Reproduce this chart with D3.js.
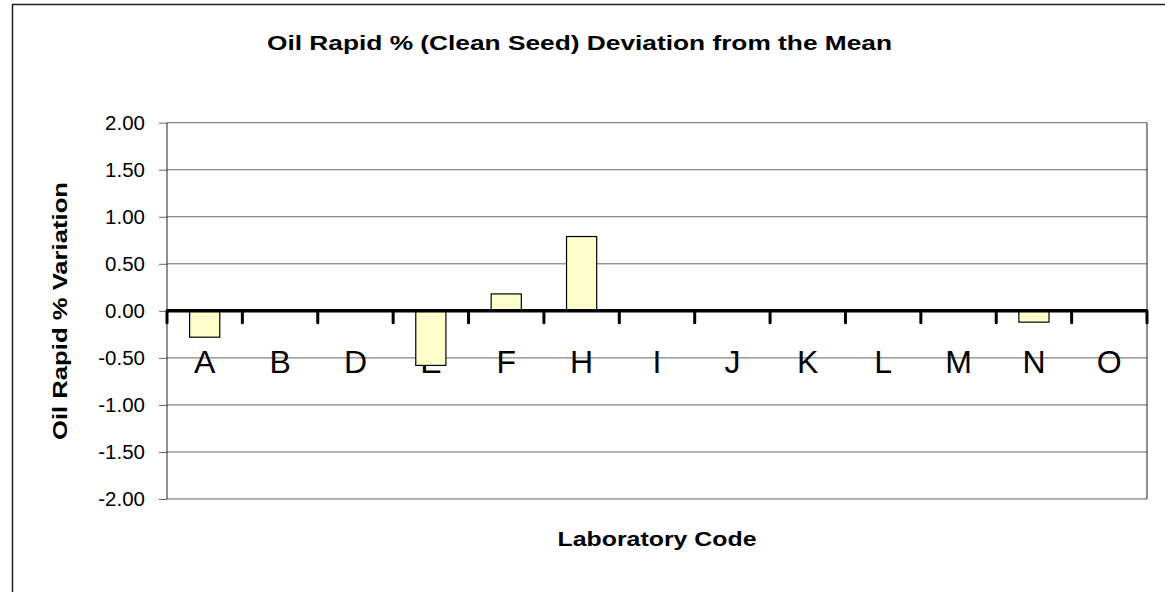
<!DOCTYPE html>
<html>
<head>
    <meta charset="utf-8">
    <script type="text/javascript" src="https://d3js.org/d3.v7.min.js"></script>
    <style>
        body { margin: 0; background: #fff; }
        text { font-family: "Liberation Sans", Arial, sans-serif; }
    </style>
</head>
<body>
    <div id="chart"></div>
    <script type="text/javascript">
        // lab codes and deviation from the mean
        var labs = ["A", "B", "D", "E", "F", "H", "I", "J", "K", "L", "M", "N", "O"];
        var deviation = [-0.28, 0, 0, -0.58, 0.18, 0.79, 0, 0, 0, 0, 0, -0.12, 0];
        var yTicks = [2, 1.5, 1, 0.5, 0, -0.5, -1, -1.5, -2];

        var W = 1165, H = 592;
        var margin = {top: 122.7, right: 18, bottom: 93, left: 167};
        var width = W - margin.left - margin.right,
            height = H - margin.top - margin.bottom;

        var svg = d3.select("#chart").append("svg")
            .attr("width", W)
            .attr("height", H);

        // outer frame
        svg.append("rect")
            .attr("x", 12.5).attr("y", 4.5)
            .attr("width", W + 10).attr("height", H + 10)
            .attr("fill", "none")
            .attr("stroke", "#222")
            .attr("stroke-width", 1.5);

        var g = svg.append("g")
            .attr("transform", "translate(" + margin.left + "," + margin.top + ")");

        var x = d3.scaleBand()
            .domain(labs)
            .range([0, width])
            .paddingInner(0.6)
            .paddingOuter(0.3);

        var xEdge = d3.scaleLinear()
            .domain([0, labs.length])
            .range([0, width]);

        var y = d3.scaleLinear()
            .domain([-2, 2])
            .range([height, 0]);

        // gridlines + y axis
        var yAxis = g.append("g")
            .call(d3.axisLeft(y).tickValues(yTicks).tickSize(8).tickPadding(14)
                .tickFormat(function(d) { return d.toFixed(2); }));
        yAxis.select(".domain").remove();
        yAxis.selectAll("line").attr("stroke", "#666");
        yAxis.selectAll("text")
            .style("font-size", "20.5px")
            .attr("fill", "#000");

        g.append("g").selectAll("line")
            .data(yTicks)
            .enter().append("line")
                .attr("x1", 0).attr("x2", width)
                .attr("y1", function(d) { return y(d); })
                .attr("y2", function(d) { return y(d); })
                .attr("stroke", "#666")
                .attr("stroke-width", 1);

        // plot frame left/right
        g.append("line").attr("x1", 0).attr("x2", 0).attr("y1", 0).attr("y2", height)
            .attr("stroke", "#222");
        g.append("line").attr("x1", width).attr("x2", width).attr("y1", 0).attr("y2", height)
            .attr("stroke", "#222");

        // x category labels
        var xAxis = g.append("g")
            .attr("transform", "translate(0," + y(0) + ")")
            .call(d3.axisBottom(x).tickSize(0).tickPadding(39.5));
        xAxis.select(".domain").remove();
        xAxis.selectAll("text")
            .style("font-size", "32px")
            .attr("fill", "#000");

        // Bars
        g.selectAll("rect.bar")
            .data(labs)
            .enter()
            .append("rect")
                .attr("class", "bar")
                .attr("x", function(d) { return x(d); })
                .attr("y", function(d, i) { return y(Math.max(0, deviation[i])); })
                .attr("width", x.bandwidth())
                .attr("height", function(d, i) { return Math.abs(y(deviation[i]) - y(0)); })
                .attr("fill", "#FFFFCC")
                .attr("stroke", "#000")
                .attr("stroke-width", 1.2);

        // zero axis with boundary ticks
        g.append("line")
            .attr("x1", 0).attr("x2", width)
            .attr("y1", y(0)).attr("y2", y(0))
            .attr("stroke", "#000")
            .attr("stroke-width", 3.5);
        g.append("g").selectAll("line")
            .data(d3.range(labs.length + 1))
            .enter().append("line")
                .attr("x1", function(d) { return xEdge(d); })
                .attr("x2", function(d) { return xEdge(d); })
                .attr("y1", y(0))
                .attr("y2", y(0) + 12)
                .attr("stroke", "#000")
                .attr("stroke-width", 3)
                .attr("stroke-linecap", "round");

        // titles
        svg.append("text")
            .text("Oil Rapid % (Clean Seed) Deviation from the Mean")
            .attr("x", 579.5).attr("y", 49.5)
            .attr("text-anchor", "middle")
            .attr("textLength", 625)
            .attr("lengthAdjust", "spacingAndGlyphs")
            .style("font-size", "20px")
            .style("font-weight", "bold");

        svg.append("text")
            .text("Laboratory Code")
            .attr("x", 657).attr("y", 546)
            .attr("text-anchor", "middle")
            .attr("textLength", 199)
            .attr("lengthAdjust", "spacingAndGlyphs")
            .style("font-size", "20px")
            .style("font-weight", "bold");

        svg.append("text")
            .text("Oil Rapid % Variation")
            .attr("transform", "translate(67,311)rotate(-90)")
            .attr("text-anchor", "middle")
            .attr("textLength", 258)
            .attr("lengthAdjust", "spacingAndGlyphs")
            .style("font-size", "20px")
            .style("font-weight", "bold");
    </script>
</body>
</html>
